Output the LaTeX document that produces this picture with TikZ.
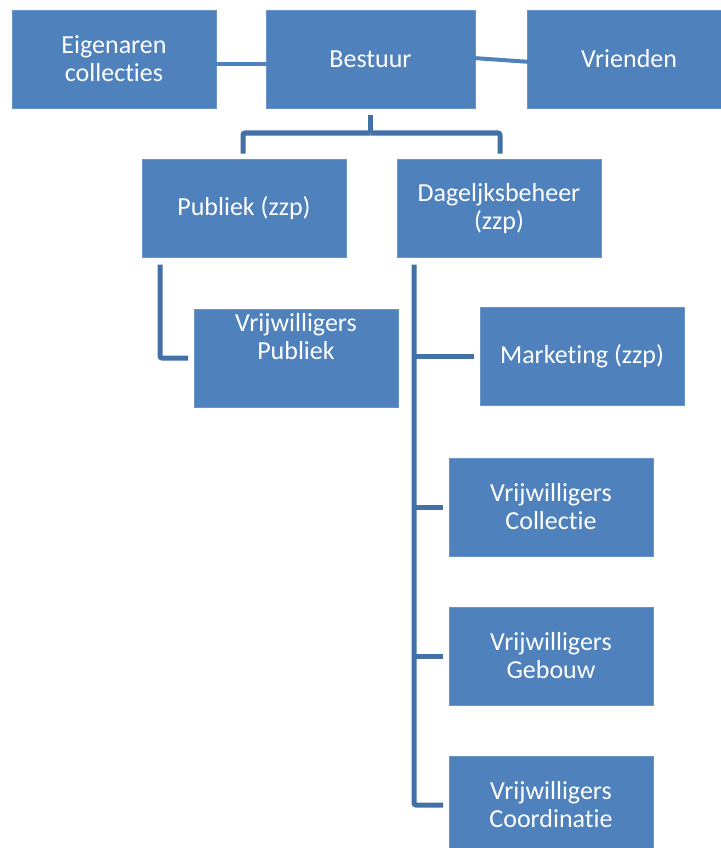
\documentclass[tikz,border=0pt]{standalone}
\usepackage{fontspec}
\setmainfont{Carlito}[Ligatures={NoCommon}]
\usetikzlibrary{positioning}
\definecolor{boxblue}{HTML}{4F81BD}
\definecolor{linkblue}{HTML}{4470A8}
\tikzset{
    font={\fontsize{26pt}{28pt}\selectfont},
    orgbox/.style={
           rectangle,
           draw=boxblue!85!white, thin,
           fill=boxblue,
           text=white,
           minimum width=204pt,
           minimum height=98pt,
           inner sep=0pt,
           outer sep=0pt,
           align=center,
           },
    boxtext/.style={text=white,align=center,inner sep=0pt},
    link/.style={draw=linkblue, line width=5pt, rounded corners=2pt},
    sidelink/.style={draw=boxblue, line width=4pt},
}
\begin{document}
\begin{tikzpicture}[x=1pt,y=1pt]
\useasboundingbox (0,0) rectangle (720,-848);

% top row
\node[orgbox] (EIGENAREN) at (114,-59) {Eigenaren\\collecties};
\node[orgbox, minimum width=209pt, right=50pt of EIGENAREN] (BESTUUR) {Bestuur};
\node[orgbox, right=52pt of BESTUUR] (VRIENDEN) {Vrienden};

% second row
\node[orgbox] (PUBLIEK) at (244,-208.5) {Publiek (zzp)};
\node[orgbox] (DAGELIJKS) at (499,-208.5) {Dageljksbeheer\\(zzp)};

% volunteers and staff
\node[orgbox, label={[boxtext, yshift=21pt]center:{Vrijwilligers\\Publiek}}] (VRPUBLIEK) at (296,-358) {};
\node[orgbox] (MARKETING) at (582,-356) {Marketing (zzp)};
\node[orgbox] (VRCOLLECTIE) at (551,-507) {Vrijwilligers\\Collectie};
\node[orgbox, below=51pt of VRCOLLECTIE] (VRGEBOUW) {Vrijwilligers\\Gebouw};
\node[orgbox, below=51pt of VRGEBOUW] (VRCOORD) {Vrijwilligers\\Coordinatie};

% side links
\draw[sidelink] ([xshift=-4pt,yshift=-5pt]EIGENAREN.east) -- ([xshift=4pt,yshift=-5pt]BESTUUR.west);
\draw[sidelink] ([xshift=-2pt,yshift=1pt]BESTUUR.east) -- ([xshift=4pt,yshift=-3pt]VRIENDEN.west);

% tree below Bestuur
\coordinate (FORK) at ([yshift=-25pt]BESTUUR.south);
\draw[link] ([yshift=-7pt]BESTUUR.south) -- (FORK);
\draw[link] (FORK) -| ([xshift=-1pt,yshift=6pt]PUBLIEK.north);
\draw[link] (FORK) -| ([xshift=1pt,yshift=6pt]DAGELIJKS.north);

% tree below Publiek
\draw[link] ([xshift=18pt,yshift=-7pt]PUBLIEK.south west) |- ([xshift=-6pt]VRPUBLIEK.west);

% tree below Dagelijks beheer
\coordinate (SPINE) at ([xshift=17pt,yshift=-7pt]DAGELIJKS.south west);
\draw[link] (SPINE) |- ([xshift=-6pt]VRCOORD.west);
\foreach \child in {MARKETING,VRCOLLECTIE,VRGEBOUW}
    \draw[link] (SPINE |- \child.west) -- ([xshift=-6pt]\child.west);

\end{tikzpicture}
\end{document}
